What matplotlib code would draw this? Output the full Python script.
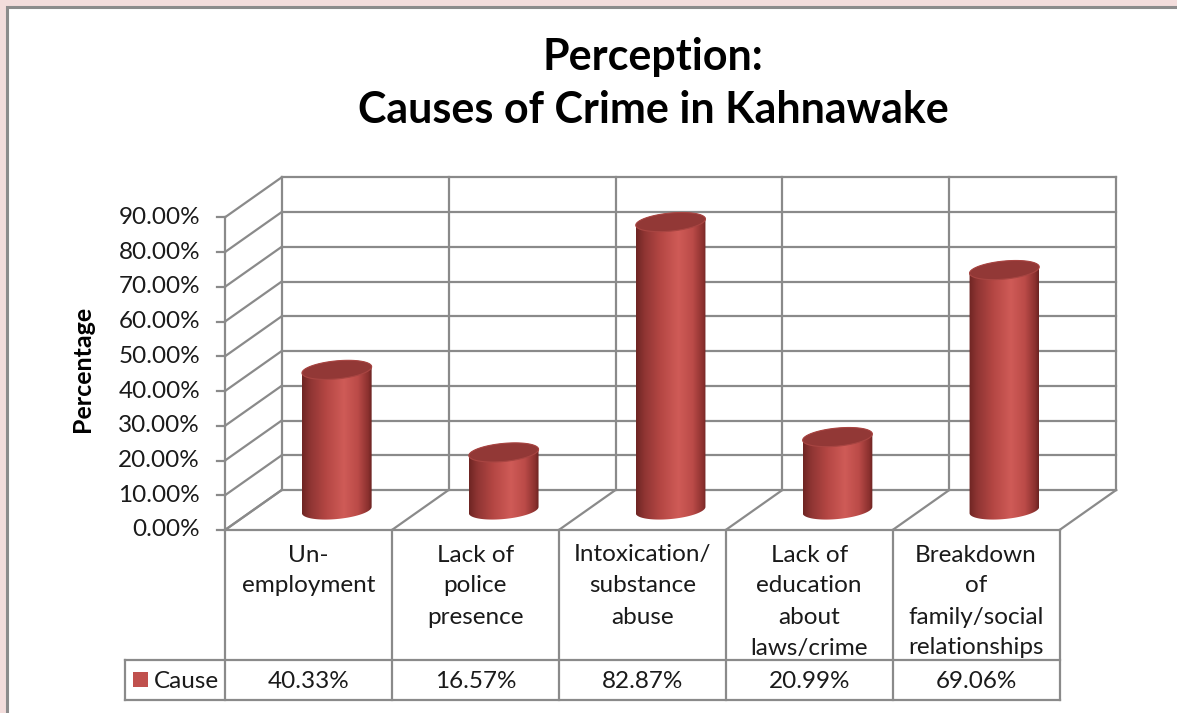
import numpy as np
import matplotlib
matplotlib.use("Agg")
import matplotlib.pyplot as plt
import matplotlib.patches as patches
from matplotlib.colors import LinearSegmentedColormap

# --- data ---
categories = [
    ["Un-", "employment"],
    ["Lack of", "police", "presence"],
    ["Intoxication/", "substance", "abuse"],
    ["Lack of", "education", "about", "laws/crime"],
    ["Breakdown", "of", "family/social", "relationships"],
]
values = [40.33, 16.57, 82.87, 20.99, 69.06]
value_labels = ["40.33%", "16.57%", "82.87%", "20.99%", "69.06%"]
yticks = [0, 10, 20, 30, 40, 50, 60, 70, 80, 90]
series_name = "Cause"

plt.rcParams['font.family'] = ['Lato', 'DejaVu Sans']

W, H = 1177, 713
fig = plt.figure(figsize=(W / 100, H / 100), dpi=100)
fig.patch.set_facecolor('#f3dddc')

# chart area (white, grey frame on top/left)
fig.patches.append(patches.Rectangle((7 / W, -0.01), 1.02, 1 - 7 / H + 0.01,
                                     transform=fig.transFigure, facecolor='white',
                                     edgecolor='#8c8c8c', lw=2.2, zorder=-5))

ax = fig.add_axes([0, 0, 1, 1])
ax.set_axis_off()
ax.patch.set_alpha(0)
ax.set_zorder(2)

# front plane geometry in pixels -> data units (x: category, y: percent)
X0, X1 = 225, 1059.5
Y0, Y90 = 530, 217.3
sx = (X1 - X0) / 5
sy = (Y0 - Y90) / 90
ax.set_xlim(-X0 / sx, (W - X0) / sx)
ax.set_ylim((Y0 - H) / sy, Y0 / sy)


def py(p):
    """pixel row (from top) -> percent units"""
    return (Y0 - p) / sy


DX = 56.7 / sx   # depth offset
DY = 40 / sy
n = len(values)
gcol = '#8a8a8a'
glw = 1.6
fs = 17.5
tcol = '#1a1a1a'

# walls, floor, gridlines
for v in yticks:
    ax.plot([DX, n + DX], [DY + v, DY + v], color=gcol, lw=glw, zorder=1)
    ax.plot([0, DX], [v, DY + v], color=gcol, lw=glw, zorder=1)
    ax.plot([-8 / sx, 0], [v, v], color=gcol, lw=glw, zorder=1)
for i in range(n + 1):
    ax.plot([DX + i, DX + i], [DY, DY + 90], color=gcol, lw=glw, zorder=1)
    ax.plot([i, i + DX], [0, DY], color=gcol, lw=glw, zorder=1)
ax.plot([0, 0], [0, 90], color=gcol, lw=glw, zorder=1)
ax.plot([0, n], [0, 0], color=gcol, lw=glw, zorder=1)

for v in yticks:
    ax.text(-25 / sx, v, f"{v:.2f}%", ha='right', va='center', fontsize=fs, color=tcol)

ax.text(-143 / sx, py(369), "Percentage", rotation=90, ha='center', va='center',
        fontsize=18, fontweight='bold', color='black')

# cylinders
cmap = LinearSegmentedColormap.from_list('cyl', [
    (0.0, '#6e2523'), (0.12, '#8f3533'), (0.35, '#b54744'), (0.6, '#cf5b57'),
    (0.8, '#bb4b48'), (0.95, '#8a302e'), (1.0, '#6a2321')])
a_px, b_px, th = 35.0, 9.0, np.deg2rad(5.5)


def ellipse_pts(cx, cy, t):
    ex = a_px * np.cos(t) * np.cos(th) - b_px * np.sin(t) * np.sin(th)
    ey = a_px * np.cos(t) * np.sin(th) + b_px * np.sin(t) * np.cos(th)
    return cx + ex / sx, cy + ey / sy


grad = np.linspace(0, 1, 256)[None, :]
for i, v in enumerate(values):
    cx = i + 0.5 + DX / 2
    base = DY / 2
    top = base + v
    tl = np.linspace(np.pi, 2 * np.pi, 60)
    tu = np.linspace(0, np.pi, 60)
    bx, by = ellipse_pts(cx, base, tl)
    ux, uy = ellipse_pts(cx, top, tu)
    body = np.column_stack([np.r_[bx, ux], np.r_[by, uy]])
    poly = patches.Polygon(body, closed=True, facecolor='none', edgecolor='none', zorder=3)
    ax.add_patch(poly)
    im = ax.imshow(grad, cmap=cmap, aspect='auto', zorder=3,
                   extent=[cx - a_px / sx, cx + a_px / sx, base - 20 / sy, top + 20 / sy])
    im.set_clip_path(poly)
    tt = np.linspace(0, 2 * np.pi, 120)
    ex, ey = ellipse_pts(cx, top, tt)
    ax.add_patch(patches.Polygon(np.column_stack([ex, ey]), closed=True,
                                 facecolor='#923836', edgecolor='#a84542', lw=0.8, zorder=4))

ax.set_xlim(-X0 / sx, (W - X0) / sx)
ax.set_ylim((Y0 - H) / sy, Y0 / sy)

# data table
yr1, yr2 = py(660), py(700)
xl = -100 / sx
ax.plot([xl, n], [yr1, yr1], color=gcol, lw=glw)
ax.plot([xl, n], [yr2, yr2], color=gcol, lw=glw)
ax.plot([xl, xl], [yr1, yr2], color=gcol, lw=glw)
for i in range(n + 1):
    ax.plot([i, i], [0, yr2], color=gcol, lw=glw)
for i, lines in enumerate(categories):
    for k, s in enumerate(lines):
        ax.text(i + 0.5, py(555 + 31 * k), s, ha='center', va='center',
                fontsize=fs, color=tcol)
    ax.text(i + 0.5, py(681), value_labels[i], ha='center', va='center',
            fontsize=fs, color=tcol)
ax.add_patch(patches.Rectangle((-92 / sx, py(687)), 15 / sx, 15 / sy,
                               facecolor='#c0504d', edgecolor='none'))
ax.text(-71 / sx, py(681), series_name, ha='left', va='center', fontsize=fs, color=tcol)

fig.text(653 / W, 1 - 57 / H, "Perception:", ha='center', va='center',
         fontsize=31, fontweight='bold')
fig.text(653 / W, 1 - 110 / H, "Causes of Crime in Kahnawake", ha='center', va='center',
         fontsize=31, fontweight='bold')

fig.savefig('out.png', dpi=100)
